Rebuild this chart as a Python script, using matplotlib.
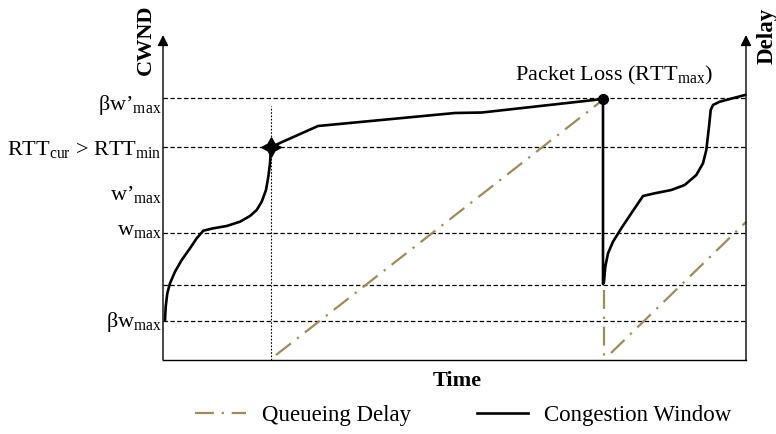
import matplotlib.pyplot as plt

plt.rcParams['font.family'] = ['Liberation Serif', 'DejaVu Serif']
plt.rcParams['mathtext.fontset'] = 'custom'
plt.rcParams['mathtext.rm'] = 'Liberation Serif'
plt.rcParams['mathtext.it'] = 'Liberation Serif:italic'
plt.rcParams['mathtext.bf'] = 'Liberation Serif:bold'

# congestion window (time, cwnd) in arbitrary units
cwnd_t = [2, 2.7, 4.3, 7, 12, 18.7, 27, 33.7, 40.3, 50.3, 63.7, 77, 87, 93.7, 98.7, 103, 105.3, 107, 108,
          155, 292, 319, 440,
          440, 441, 442.3, 445, 450, 458.3, 468.3, 480, 491.7, 508.3, 521.7, 533.3, 540, 543.3,
          546, 547.7, 550, 556.7, 582]
cwnd_v = [40, 53.3, 66.7, 76.7, 88.3, 100, 111.7, 121.7, 129.3, 131.7, 134, 138.3, 144, 150, 158.3, 170,
          183.3, 196.7, 213,
          234, 247, 247.5, 261,
          76, 78.3, 93.3, 106.7, 118.3, 131.7, 146.7, 164, 166.7, 170, 175, 185, 196.7, 210,
          233.3, 250, 255, 258.3, 265]

# queueing delay, three pieces
q1_t = [113, 441]
q1_v = [5, 261]
q2_t = [441, 441]
q2_v = [70, -2]
q3_t = [448, 583]
q3_v = [7, 138]

# dashed reference levels and their labels
levels = [261.5, 213, 127, 75, 39]
label_text = ['βw’$_{\\mathrm{max}}$', 'RTT$_{\\mathrm{cur}}$ > RTT$_{\\mathrm{min}}$',
              'w’$_{\\mathrm{max}}$', 'w$_{\\mathrm{max}}$', 'βw$_{\\mathrm{max}}$']
label_y = [250, 205, 160, 125, 33]

rtt_t = 108        # time where RTT_cur > RTT_min
rtt_v = 213
loss_t = 440       # packet loss time
loss_v = 261

qcolor = '#9b8d5b'
qstyle = (0, (8.5, 3.5, 1, 3.5))

fig = plt.figure(figsize=(7.76, 4.34), dpi=100)
ax = fig.add_axes([163 / 776, 74 / 434, 583 / 776, 325 / 434])
ax.set_xlim(0, 583)
ax.set_ylim(0, 325)
ax.set_xticks([])
ax.set_yticks([])
ax.spines['top'].set_visible(False)
ax.spines['left'].set_visible(False)
ax.spines['right'].set_visible(False)
ax.spines['bottom'].set_linewidth(1.0)

for x in (0, 1):
    ax.annotate('', xy=(x, 1.0), xytext=(x, 0), xycoords='axes fraction',
                arrowprops=dict(arrowstyle='-|>', lw=1.0, color='k', mutation_scale=16,
                                shrinkA=0, shrinkB=0))

for lv in levels:
    ax.axhline(lv, color='k', lw=0.9, ls=(0, (3.5, 2)), zorder=1)

ax.plot([rtt_t, rtt_t], [0, 254], color='k', lw=0.8, ls=(0, (1.5, 1.5)), zorder=1)

qline, = ax.plot(q1_t, q1_v, color=qcolor, lw=1.6, ls=qstyle, clip_on=False)
ax.plot(q2_t, q2_v, color=qcolor, lw=1.6, ls=qstyle, clip_on=False)
ax.plot(q3_t, q3_v, color=qcolor, lw=1.6, ls=qstyle, clip_on=False)

cline, = ax.plot(cwnd_t, cwnd_v, color='k', lw=1.9, solid_joinstyle='round', clip_on=False, zorder=3)
ax.plot(rtt_t, rtt_v, marker=(4, 1, 0), ms=14, color='k', zorder=4)
ax.plot(loss_t, loss_v, marker='o', ms=7, color='k', zorder=4, clip_on=False)

for txt, y in zip(label_text, label_y):
    ax.text(-1, y, txt, ha='right', va='baseline', fontsize=16, clip_on=False)

ax.text(352, 280, 'Packet Loss (RTT$_{\\mathrm{max}}$)', ha='left', va='baseline', fontsize=16)

fig.text(146 / 776, 1 - 40 / 434, 'CWND', rotation=90, ha='center', va='center',
         fontsize=16, fontweight='bold')
fig.text(757 / 776, 1 - 36 / 434, 'Delay', rotation=90, ha='left', va='center',
         fontsize=16.5, fontweight='bold')
fig.text(457 / 776, 1 - 381 / 434, 'Time', ha='center', va='center',
         fontsize=16, fontweight='bold')

fig.legend([qline, cline], ['Queueing Delay', 'Congestion Window'], loc='center',
           bbox_to_anchor=(463 / 776, 1 - 415 / 434), ncol=2, frameon=False, fontsize=16.5,
           handlelength=2.2, handletextpad=0.7, columnspacing=2.9)

fig.savefig('out.png', dpi=100)
